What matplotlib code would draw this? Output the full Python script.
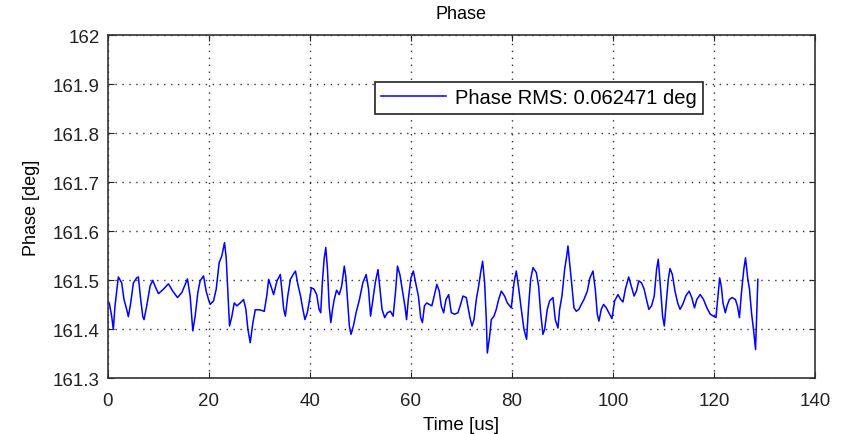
import numpy as np
import matplotlib.pyplot as plt

plt.rcParams['font.family'] = ['Liberation Sans', 'DejaVu Sans']

# time axis [us] and phase samples [deg]
time_us = [0.26, 0.73, 1.06, 1.39, 2.05, 2.71, 3.17, 3.70, 4.03, 4.50,
           5.03, 5.69, 6.02, 6.48, 6.88, 7.14, 7.67, 8.33, 8.86, 9.33,
           9.99, 10.98, 11.97, 12.83, 13.76, 14.62, 15.74, 16.27, 16.80, 17.26,
           17.79, 18.25, 18.92, 19.44, 19.91, 20.24, 20.90, 21.43, 22.02, 22.55,
           23.08, 23.41, 23.68, 24.07, 24.54, 25.00, 25.53, 26.19, 26.85, 27.31,
           27.71, 28.17, 28.70, 29.17, 30.03, 30.95, 31.48, 31.81, 32.28, 32.80,
           33.47, 34.13, 34.47, 34.80, 35.13, 35.60, 36.13, 36.67, 37.13, 37.60,
           38.13, 38.60, 39.00, 39.47, 39.93, 40.27, 40.80, 41.33, 41.80, 42.13,
           42.47, 42.80, 43.13, 43.47, 43.80, 44.13, 44.47, 44.80, 45.27, 45.80,
           46.27, 46.80, 47.13, 47.47, 47.80, 48.13, 48.60, 49.13, 49.80, 50.47,
           51.13, 51.60, 52.00, 52.47, 52.93, 53.47, 53.80, 54.27, 54.80, 55.33,
           55.93, 56.47, 56.93, 57.33, 57.80, 58.27, 58.80, 59.13, 59.47, 60.00,
           60.47, 60.93, 61.47, 61.93, 62.27, 62.67, 63.13, 63.60, 64.13, 64.60,
           65.13, 65.60, 66.00, 66.47, 66.93, 67.47, 67.99, 68.65, 69.31, 69.83,
           70.30, 70.96, 71.62, 72.08, 72.48, 72.94, 73.40, 73.80, 74.19, 74.59,
           74.92, 75.12, 75.58, 75.91, 76.44, 76.90, 77.36, 77.89, 78.55, 79.08,
           79.87, 80.40, 80.86, 81.32, 81.85, 82.38, 82.90, 83.30, 83.70, 84.16,
           84.82, 85.28, 85.68, 86.14, 86.47, 87.00, 87.46, 88.12, 88.58, 89.11,
           89.44, 89.90, 90.43, 90.89, 91.09, 91.42, 91.88, 92.28, 92.74, 93.27,
           93.73, 94.26, 94.92, 95.45, 96.04, 96.50, 96.90, 97.23, 97.69, 98.15,
           98.68, 99.34, 99.80, 100.33, 100.99, 101.53, 101.99, 102.46, 103.12, 103.65,
           104.19, 104.65, 105.12, 105.65, 106.18, 106.64, 107.11, 107.64, 108.17, 108.64,
           108.97, 109.44, 109.83, 110.17, 110.50, 110.96, 111.30, 111.76, 112.29, 112.82,
           113.29, 113.82, 114.42, 115.08, 115.61, 116.15, 116.61, 117.28, 117.94, 118.60,
           119.27, 119.93, 120.40, 120.80, 121.13, 121.46, 121.79, 122.26, 122.59, 123.06,
           123.59, 124.25, 124.65, 125.05, 125.45, 125.91, 126.25, 126.71, 127.04, 127.44,
           127.91, 128.24, 128.44, 128.57, 128.70]
phase_deg = [161.454, 161.427, 161.400, 161.448, 161.507, 161.495, 161.461, 161.441, 161.426, 161.454,
             161.495, 161.505, 161.507, 161.461, 161.427, 161.420, 161.448, 161.488, 161.500, 161.488,
             161.473, 161.482, 161.493, 161.478, 161.465, 161.475, 161.503, 161.468, 161.397, 161.427,
             161.475, 161.499, 161.509, 161.478, 161.461, 161.451, 161.458, 161.482, 161.536, 161.550,
             161.577, 161.546, 161.488, 161.407, 161.427, 161.454, 161.448, 161.454, 161.461, 161.441,
             161.400, 161.373, 161.414, 161.440, 161.440, 161.437, 161.471, 161.502, 161.488, 161.471,
             161.499, 161.512, 161.475, 161.441, 161.427, 161.468, 161.502, 161.512, 161.519, 161.492,
             161.468, 161.441, 161.420, 161.434, 161.461, 161.485, 161.482, 161.471, 161.441, 161.434,
             161.499, 161.543, 161.567, 161.522, 161.448, 161.414, 161.441, 161.461, 161.480, 161.471,
             161.488, 161.529, 161.505, 161.454, 161.407, 161.390, 161.407, 161.434, 161.461, 161.495,
             161.512, 161.482, 161.427, 161.461, 161.495, 161.522, 161.488, 161.441, 161.424, 161.434,
             161.437, 161.427, 161.475, 161.529, 161.512, 161.482, 161.448, 161.420, 161.461, 161.505,
             161.519, 161.495, 161.468, 161.424, 161.414, 161.448, 161.454, 161.451, 161.448, 161.468,
             161.492, 161.478, 161.448, 161.434, 161.461, 161.471, 161.434, 161.431, 161.434, 161.451,
             161.468, 161.465, 161.427, 161.407, 161.420, 161.461, 161.488, 161.516, 161.539, 161.495,
             161.420, 161.352, 161.386, 161.420, 161.427, 161.441, 161.461, 161.478, 161.468, 161.454,
             161.444, 161.495, 161.519, 161.485, 161.441, 161.400, 161.380, 161.448, 161.502, 161.526,
             161.516, 161.488, 161.434, 161.390, 161.400, 161.441, 161.458, 161.465, 161.420, 161.403,
             161.441, 161.468, 161.522, 161.553, 161.570, 161.536, 161.488, 161.444, 161.437, 161.441,
             161.451, 161.461, 161.478, 161.505, 161.519, 161.482, 161.431, 161.417, 161.441, 161.451,
             161.444, 161.431, 161.422, 161.458, 161.471, 161.461, 161.456, 161.482, 161.507, 161.488,
             161.468, 161.478, 161.499, 161.495, 161.482, 161.461, 161.441, 161.448, 161.468, 161.522,
             161.543, 161.482, 161.427, 161.407, 161.448, 161.502, 161.524, 161.512, 161.478, 161.454,
             161.441, 161.451, 161.468, 161.478, 161.465, 161.444, 161.461, 161.471, 161.461, 161.444,
             161.431, 161.427, 161.424, 161.468, 161.505, 161.488, 161.454, 161.434, 161.448, 161.461,
             161.465, 161.461, 161.448, 161.424, 161.475, 161.522, 161.546, 161.502, 161.482, 161.434,
             161.393, 161.359, 161.420, 161.461, 161.502]

x_ticks = [0, 20, 40, 60, 80, 100, 120, 140]
y_ticks = [161.3, 161.4, 161.5, 161.6, 161.7, 161.8, 161.9, 162]
y_tick_labels = ['161.3', '161.4', '161.5', '161.6', '161.7', '161.8', '161.9', '162']
rms_label = 'Phase RMS: 0.062471 deg'

fig = plt.figure(figsize=(8.41, 4.35), dpi=100)
ax = fig.add_axes([0.1284, 0.1276, 0.8406, 0.7896])

ax.plot(time_us, phase_deg, color=(0, 0, 1), lw=1.1, label=rms_label)

ax.set_xlim(0, 140)
ax.set_ylim(161.3, 162)
ax.set_xticks(x_ticks)
ax.set_yticks(y_ticks)
ax.set_yticklabels(y_tick_labels)
ax.tick_params(direction='in', top=True, right=True, length=4, width=0.8,
               labelsize=13.5, colors='#222222')
ax.tick_params(axis='x', pad=10)
ax.tick_params(axis='y', pad=6)
ax.grid(True, color='#333333', linestyle=(0, (1, 4)), linewidth=1.0)
for s in ax.spines.values():
    s.set_color('#333333')
    s.set_linewidth(1.2)

ax.set_title('Phase', fontsize=13, pad=12)
ax.set_xlabel('Time [us]', fontsize=13.5, labelpad=5)
ax.set_ylabel('Phase [deg]', fontsize=13, labelpad=9)

leg = ax.legend(loc='upper left', bbox_to_anchor=(0.378, 0.862), fontsize=14.5,
                fancybox=False, framealpha=1, edgecolor='#222222',
                handlelength=3.2, handletextpad=0.45, borderpad=0.3,
                borderaxespad=0)
leg.get_frame().set_linewidth(1.2)

fig.savefig('out.png', dpi=100)
